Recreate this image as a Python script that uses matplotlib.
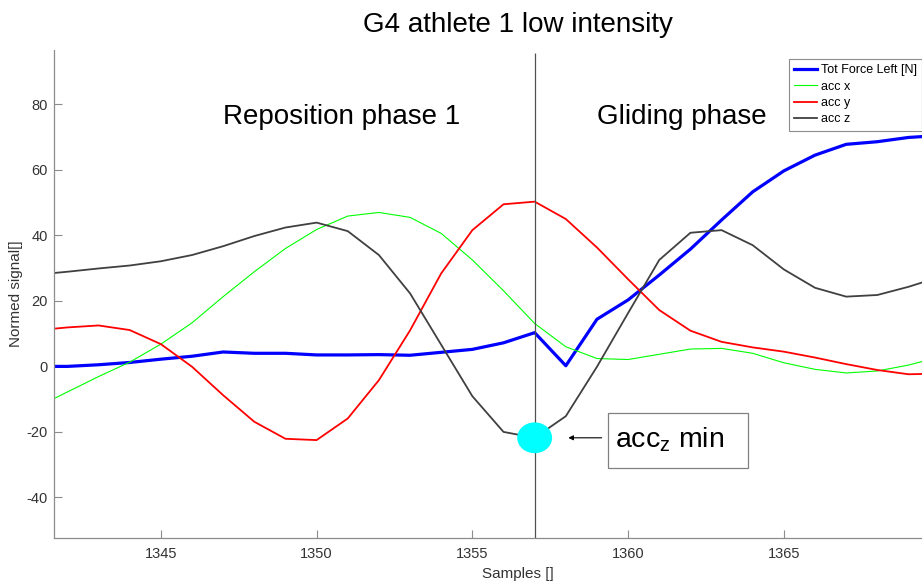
import numpy as np
import matplotlib
matplotlib.use("Agg")
import matplotlib.pyplot as plt
from matplotlib.patches import Ellipse, Rectangle

plt.rcParams["font.family"] = ["Liberation Sans", "DejaVu Sans"]
plt.rcParams["mathtext.fontset"] = "custom"
plt.rcParams["mathtext.rm"] = "Liberation Sans"
plt.rcParams["mathtext.it"] = "Liberation Sans"
plt.rcParams["axes.unicode_minus"] = False

# samples 1341 .. 1370
samples = list(range(1341, 1371))
force_left = [0.0, 0.0, 0.5, 1.2, 2.2, 3.1, 4.4, 4.0, 4.0, 3.5,
              3.5, 3.6, 3.4, 4.3, 5.2, 7.2, 10.3, 0.2, 14.4, 20.3,
              27.9, 35.8, 44.7, 53.3, 59.7, 64.5, 67.8, 68.6, 69.9, 70.5]
acc_x = [-12.5, -7.8, -3.1, 1.3, 6.8, 13.3, 21.3, 28.9, 36.0, 41.8,
         45.9, 47.0, 45.5, 40.6, 32.5, 23.1, 13.1, 6.0, 2.4, 2.1,
         3.7, 5.3, 5.5, 4.0, 1.1, -0.9, -2.0, -1.4, 0.4, 2.9]
acc_y = [11.0, 11.9, 12.5, 11.1, 6.8, -0.1, -8.8, -16.9, -22.1, -22.5,
         -15.9, -4.2, 11.0, 28.4, 41.6, 49.5, 50.3, 45.0, 36.3, 26.6,
         17.2, 10.9, 7.5, 5.8, 4.5, 2.7, 0.7, -1.1, -2.4, -2.2]
acc_z = [28.0, 28.9, 29.9, 30.8, 32.1, 34.0, 36.7, 39.8, 42.4, 43.9,
         41.3, 34.0, 22.3, 6.6, -9.1, -20.0, -21.8, -15.2, -0.1, 16.3,
         32.5, 40.8, 41.6, 37.0, 29.6, 24.0, 21.3, 21.8, 24.3, 27.3]

phase_change = 1357
x_ticks = [1345, 1350, 1355, 1360, 1365]
y_ticks = [-40, -20, 0, 20, 40, 60, 80]

W, H = 922, 583


def main():
    fig = plt.figure(figsize=(W / 100, H / 100), dpi=100)
    # axes runs past the right edge of the figure
    ax = fig.add_axes([54 / W, 1 - 537.7 / H, 928 / W, 487.7 / H])

    ax.plot(samples, force_left, color="#0000ff", lw=2.3, label="Tot Force Left [N]")
    ax.plot(samples, acc_x, color="#00ff00", lw=0.8, label="acc x")
    ax.plot(samples, acc_y, color="#ff0000", lw=1.3, label="acc y")
    ax.plot(samples, acc_z, color="#404040", lw=1.3, label="acc z")

    ax.set_xlim(1341.57, 1371.36)
    ax.set_ylim(-52.3, 96.6)

    # phase boundary
    ax.vlines(phase_change, -52.3, 95.7, color="#505050", lw=0.9)

    # minimum of acc z
    z_min = acc_z[samples.index(phase_change)]
    ax.add_patch(Ellipse((phase_change, z_min), 1.12, 9.4,
                         facecolor="#00ffff", edgecolor="none", zorder=5))

    ax.annotate("", xy=(1358.08, z_min), xytext=(1359.15, z_min),
                arrowprops=dict(arrowstyle="-|>", color="black", lw=0.8,
                                mutation_scale=7, shrinkA=0, shrinkB=0))

    # text box of the annotation, in figure pixels
    fig.patches.append(Rectangle((608 / W, 1 - 467.7 / H), 140 / W, 55 / H,
                                 transform=fig.transFigure, facecolor="white",
                                 edgecolor="#808080", lw=0.9, zorder=6))
    fig.text(615 / W, 1 - 440 / H, r"acc$_\mathregular{z}$ min", fontsize=20.5,
             va="center", ha="left", zorder=7)

    ax.text(1347, 76, "Reposition phase 1", fontsize=20, va="center")
    ax.text(1359, 76, "Gliding phase", fontsize=20, va="center")

    ax.set_xticks(x_ticks)
    ax.set_yticks(y_ticks)
    ax.tick_params(direction="in", length=5.5, width=0.8, colors="#8c8c8c",
                   labelcolor="#333333", labelsize=10.5)
    ax.tick_params(axis="x", pad=7)
    ax.tick_params(axis="y", pad=4.5)
    for side in ["top", "right"]:
        ax.spines[side].set_visible(False)
    for side in ["left", "bottom"]:
        ax.spines[side].set_color("#8c8c8c")
        ax.spines[side].set_linewidth(0.9)

    ax.set_xlabel("Samples []", fontsize=11, color="#333333", labelpad=4)
    ax.set_ylabel("Normed signal[]", fontsize=11, color="#333333")
    ax.yaxis.set_label_coords((23.3 - 54) / 928, 0.5)
    ax.set_title("G4 athlete 1 low intensity", fontsize=20, pad=13)

    leg = ax.legend(loc="upper left", bbox_to_anchor=(789 / W, 1 - 59 / H),
                    bbox_transform=fig.transFigure, borderaxespad=0,
                    fontsize=9, handlelength=1.85, handletextpad=0.3,
                    labelspacing=0.36, borderpad=0.4, fancybox=False,
                    framealpha=1)
    leg.get_frame().set_edgecolor("#8c8c8c")
    leg.get_frame().set_linewidth(0.8)

    fig.savefig("out.png", dpi=100)


if __name__ == "__main__":
    main()
